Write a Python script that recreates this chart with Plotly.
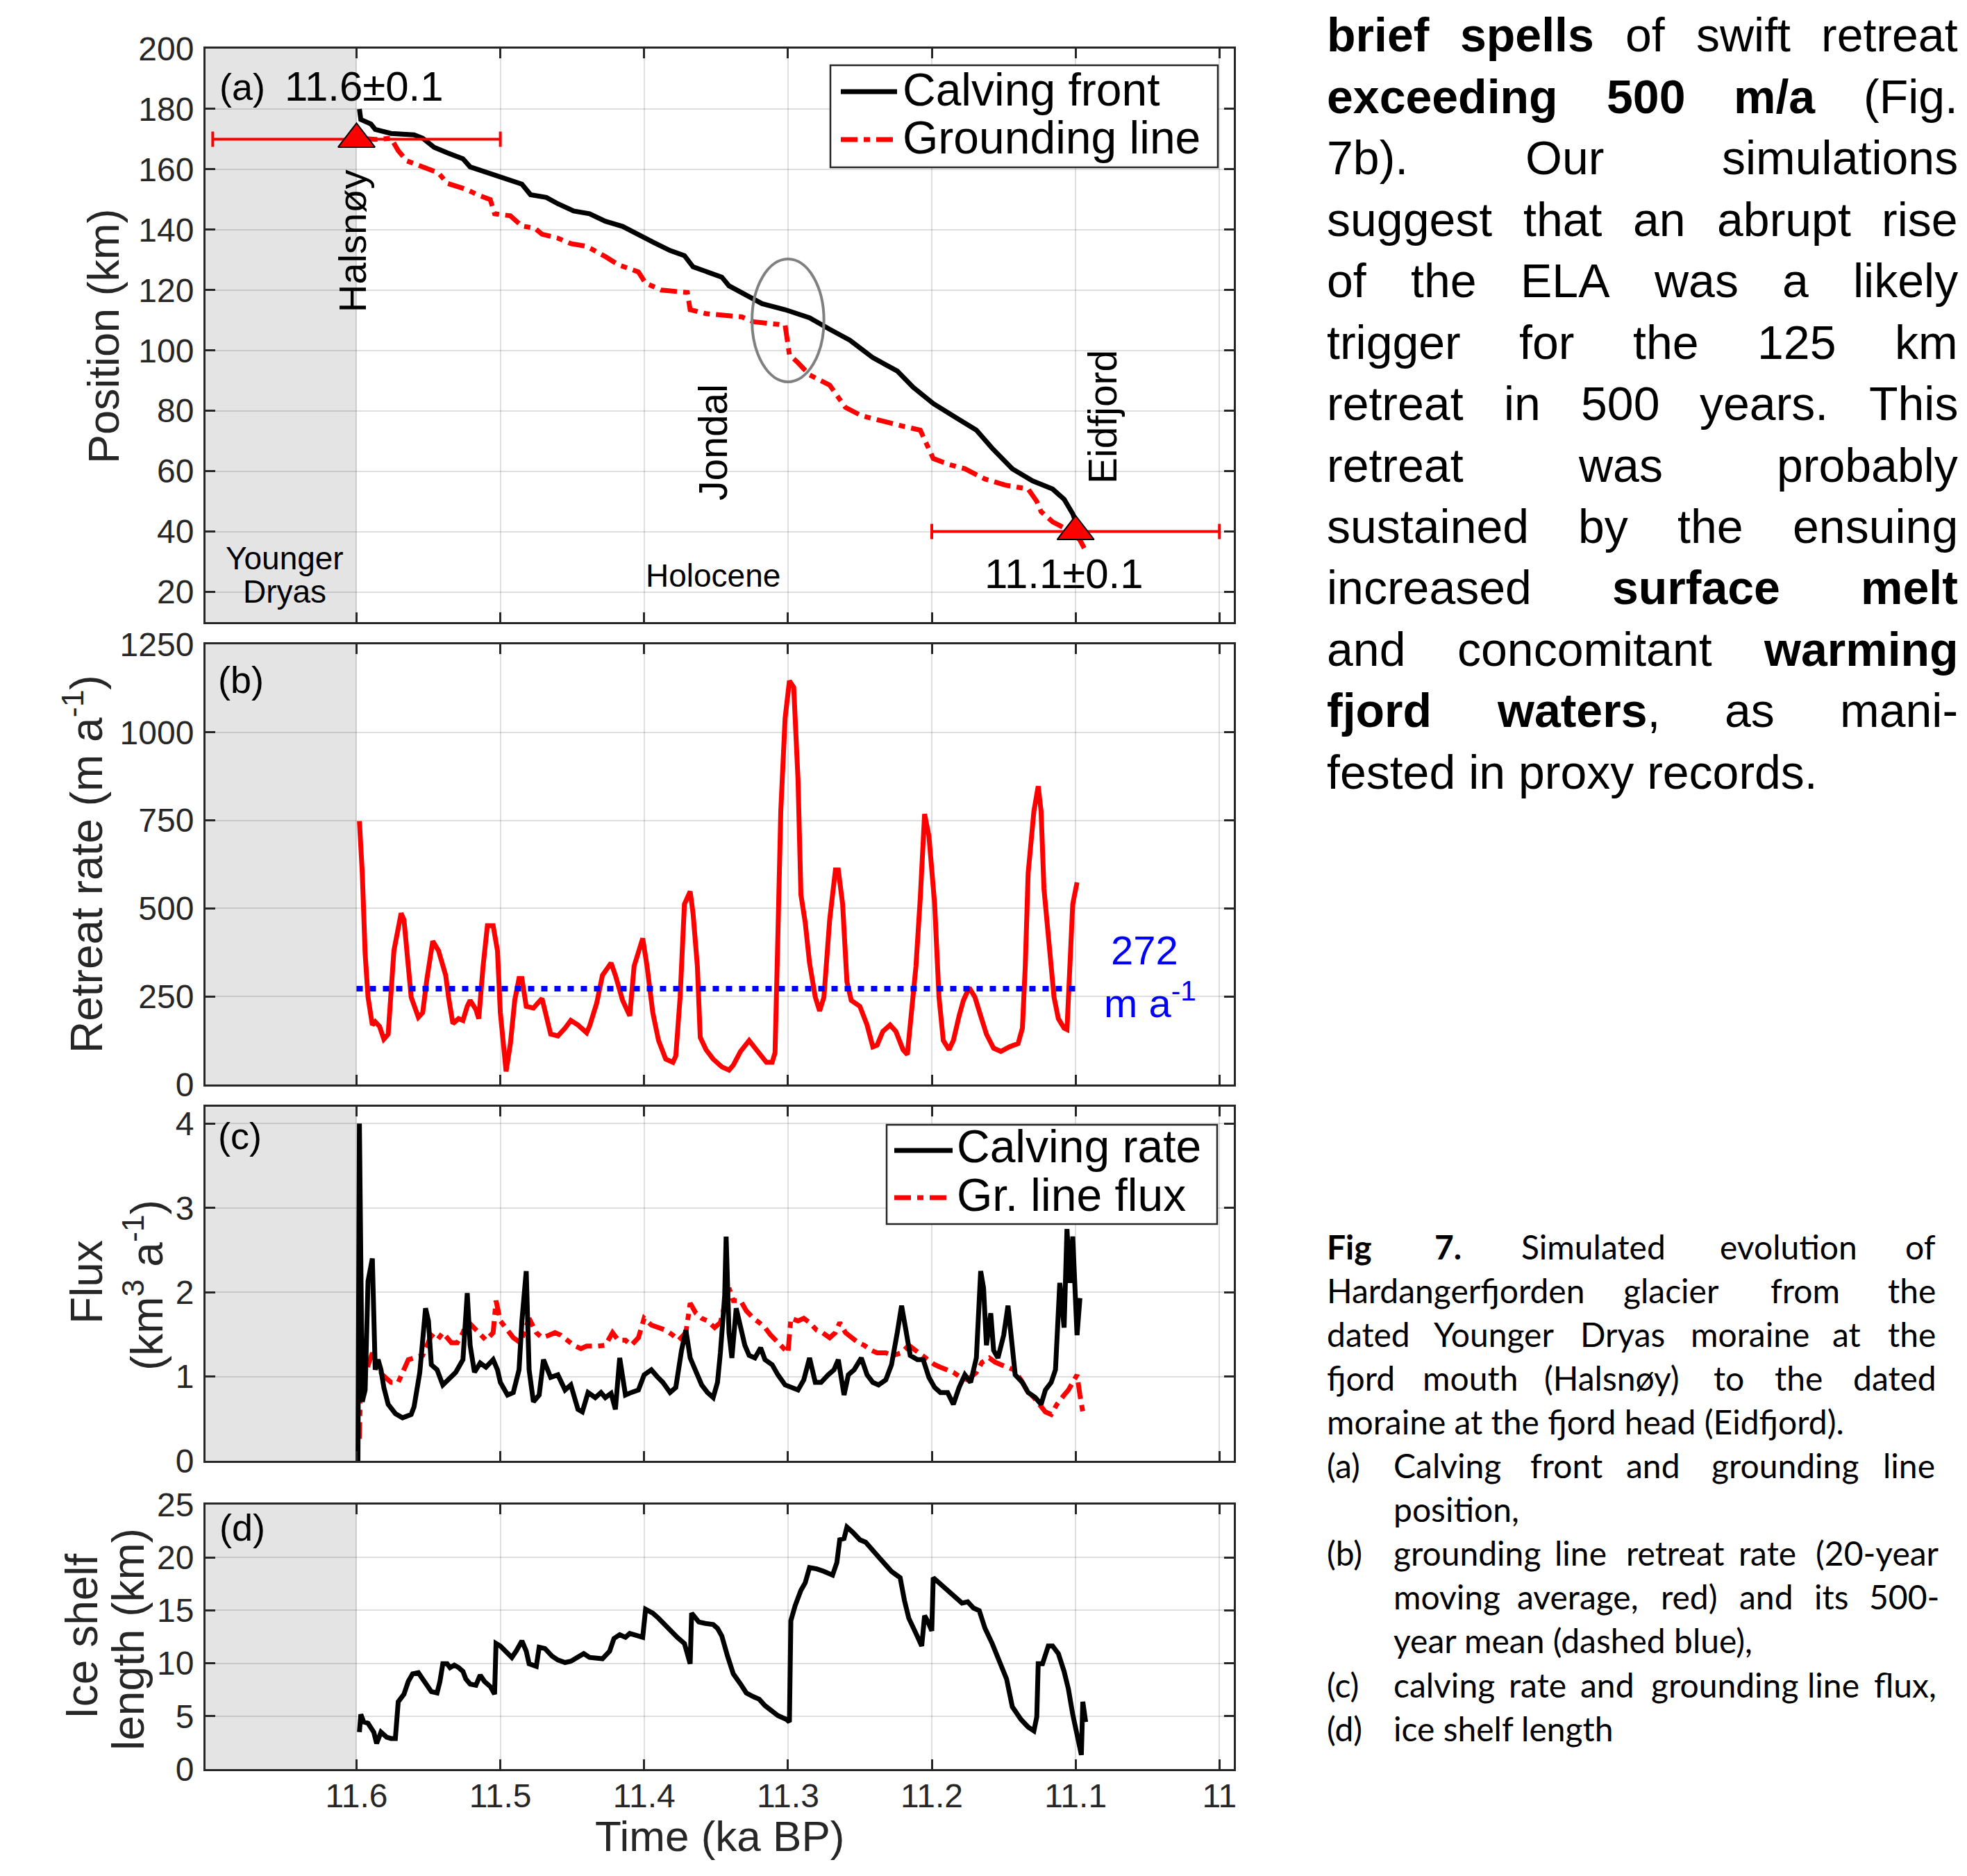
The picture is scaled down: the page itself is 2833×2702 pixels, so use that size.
import re
import plotly.graph_objects as go

W, H = 2833, 2702
INK = "#262626"
SANS = "Liberation Sans, Arial, sans-serif"
CAPF = "Lato, Open Sans, sans-serif"
OFF = 8  # page body margin seen in the rendered picture

# ---------------- data ----------------
x_tickvals = [11.6, 11.5, 11.4, 11.3, 11.2, 11.1, 11.0]
x_ticktext = ["11.6", "11.5", "11.4", "11.3", "11.2", "11.1", "11"]

# (a) calving front / grounding line position (km)
front_t = [11.598, 11.597, 11.590, 11.587, 11.576, 11.560, 11.554, 11.546, 11.537, 11.526,
           11.521, 11.504, 11.496, 11.485, 11.479, 11.468, 11.460, 11.449, 11.438, 11.427,
           11.415, 11.404, 11.393, 11.382, 11.372, 11.366, 11.354, 11.346, 11.341, 11.330,
           11.318, 11.302, 11.285, 11.271, 11.257, 11.241, 11.224, 11.213, 11.199, 11.183,
           11.169, 11.158, 11.144, 11.130, 11.116, 11.108, 11.102, 11.099]
front_km = [180.0, 176.5, 175.0, 173.2, 171.9, 171.4, 170.3, 167.3, 165.5, 163.5,
            160.8, 158.1, 156.8, 155.1, 151.6, 150.7, 148.6, 146.2, 145.3, 142.8,
            141.1, 138.6, 135.7, 133.1, 131.4, 127.7, 125.9, 124.3, 121.4, 118.6,
            115.5, 113.5, 110.8, 107.0, 103.4, 97.6, 93.2, 87.8, 82.4, 77.7,
            73.6, 67.6, 60.8, 56.8, 54.1, 50.7, 45.9, 41.9]

gl_t = [11.597, 11.587, 11.576, 11.571, 11.565, 11.554, 11.543, 11.537, 11.524, 11.515,
        11.507, 11.504, 11.493, 11.485, 11.476, 11.471, 11.460, 11.451, 11.440, 11.427,
        11.418, 11.404, 11.399, 11.388, 11.370, 11.368, 11.357, 11.332, 11.324, 11.302,
        11.299, 11.293, 11.285, 11.271, 11.266, 11.260, 11.249, 11.238, 11.221, 11.208,
        11.204, 11.199, 11.188, 11.177, 11.163, 11.149, 11.133, 11.127, 11.124, 11.116,
        11.105, 11.097, 11.094]
gl_km = [170.3, 169.9, 170.3, 166.2, 162.8, 160.8, 158.8, 155.4, 153.4, 151.4,
         150.0, 145.3, 144.6, 141.2, 140.5, 138.5, 137.2, 135.4, 134.5, 131.1,
         128.4, 126.0, 122.3, 120.0, 119.2, 113.5, 112.2, 111.1, 109.5, 108.4,
         98.6, 95.9, 91.9, 88.5, 85.1, 81.1, 78.4, 77.0, 75.0, 73.6,
         69.6, 64.2, 62.2, 60.8, 57.4, 55.4, 54.1, 50.0, 46.6, 43.2,
         40.5, 37.2, 34.5]

moraine_age = [11.6, 11.1]
moraine_km = [170, 40]
moraine_err = [0.1, 0.1]

# (b) grounding line retreat rate (m/a)
rate_t = [11.598, 11.596, 11.594, 11.592, 11.589, 11.587, 11.584, 11.581, 11.578, 11.576,
          11.574, 11.569, 11.567, 11.564, 11.562, 11.557, 11.554, 11.551, 11.547, 11.543,
          11.538, 11.536, 11.533, 11.529, 11.526, 11.523, 11.521, 11.517, 11.515, 11.512,
          11.509, 11.505, 11.502, 11.500, 11.497, 11.496, 11.493, 11.490, 11.487, 11.485,
          11.482, 11.477, 11.474, 11.471, 11.465, 11.460, 11.455, 11.451, 11.446, 11.440,
          11.438, 11.433, 11.429, 11.423, 11.420, 11.415, 11.410, 11.407, 11.401, 11.398,
          11.394, 11.390, 11.385, 11.380, 11.378, 11.375, 11.372, 11.368, 11.366, 11.363,
          11.361, 11.357, 11.352, 11.346, 11.341, 11.338, 11.333, 11.327, 11.322, 11.318,
          11.315, 11.311, 11.309, 11.307, 11.305, 11.302, 11.299, 11.296, 11.293, 11.291,
          11.288, 11.285, 11.281, 11.278, 11.275, 11.271, 11.267, 11.265, 11.262, 11.259,
          11.256, 11.250, 11.245, 11.241, 11.238, 11.234, 11.229, 11.225, 11.220, 11.217,
          11.215, 11.211, 11.208, 11.205, 11.202, 11.198, 11.195, 11.192, 11.188, 11.185,
          11.181, 11.178, 11.174, 11.170, 11.166, 11.162, 11.157, 11.152, 11.146, 11.140,
          11.137, 11.135, 11.133, 11.129, 11.126, 11.124, 11.122, 11.118, 11.115, 11.112,
          11.108, 11.106, 11.104, 11.102, 11.099]
retreat_rate = [748, 600, 371, 248, 169, 178, 165, 129, 143, 248,
                380, 486, 468, 336, 248, 191, 204, 301, 407, 380,
                310, 248, 173, 187, 182, 222, 239, 213, 187, 336,
                451, 451, 380, 204, 72, 37, 116, 239, 301, 301,
                222, 217, 231, 244, 143, 138, 160, 182, 169, 147,
                165, 231, 310, 345, 310, 239, 195, 336, 415, 336,
                204, 125, 72, 63, 81, 248, 512, 548, 486, 336,
                134, 99, 72, 50, 41, 55, 94, 125, 99, 81,
                63, 63, 90, 424, 776, 1040, 1146, 1128, 864, 539,
                460, 345, 248, 209, 248, 468, 609, 609, 512, 292,
                239, 222, 169, 107, 112, 151, 169, 151, 99, 85,
                160, 336, 530, 768, 706, 512, 248, 125, 99, 125,
                195, 239, 275, 248, 195, 143, 103, 94, 107, 116,
                160, 336, 600, 776, 847, 776, 556, 380, 248, 187,
                160, 156, 336, 512, 574]
mean_rate = 272
mean_span = [11.6, 11.1]

# (c) calving rate and grounding line flux (km3/a)
calv_t = [11.599, 11.598, 11.596, 11.594, 11.592, 11.589, 11.587, 11.585, 11.583, 11.581,
          11.578, 11.573, 11.568, 11.562, 11.560, 11.556, 11.552, 11.550, 11.548, 11.544,
          11.540, 11.535, 11.531, 11.526, 11.523, 11.521, 11.518, 11.514, 11.510, 11.505,
          11.502, 11.500, 11.495, 11.491, 11.487, 11.485, 11.482, 11.480, 11.477, 11.473,
          11.470, 11.465, 11.460, 11.455, 11.451, 11.446, 11.443, 11.439, 11.434, 11.430,
          11.427, 11.423, 11.420, 11.417, 11.413, 11.409, 11.404, 11.400, 11.395, 11.391,
          11.387, 11.382, 11.378, 11.374, 11.371, 11.368, 11.364, 11.360, 11.356, 11.352,
          11.349, 11.347, 11.344, 11.343, 11.341, 11.339, 11.336, 11.333, 11.330, 11.327,
          11.323, 11.319, 11.316, 11.311, 11.307, 11.302, 11.298, 11.293, 11.289, 11.285,
          11.281, 11.277, 11.272, 11.268, 11.265, 11.261, 11.258, 11.254, 11.249, 11.245,
          11.241, 11.237, 11.232, 11.228, 11.224, 11.221, 11.218, 11.215, 11.210, 11.206,
          11.202, 11.198, 11.194, 11.189, 11.185, 11.181, 11.177, 11.173, 11.169, 11.166,
          11.164, 11.162, 11.159, 11.157, 11.154, 11.150, 11.147, 11.145, 11.142, 11.137,
          11.133, 11.128, 11.124, 11.121, 11.117, 11.114, 11.111, 11.108, 11.106, 11.104,
          11.102, 11.099, 11.097]
calving_rate = [0.0, 4.0, 0.7, 0.84, 2.13, 2.4, 1.08, 1.2, 1.08, 0.87,
                0.67, 0.56, 0.51, 0.55, 0.64, 1.05, 1.81, 1.66, 1.14, 1.08,
                0.9, 0.99, 1.05, 1.2, 1.99, 1.37, 1.05, 1.16, 1.11, 1.2,
                1.08, 0.93, 0.78, 0.81, 1.08, 1.66, 2.25, 1.08, 0.7, 0.78,
                1.2, 0.99, 1.02, 0.84, 0.9, 0.61, 0.58, 0.81, 0.75, 0.81,
                0.75, 0.8, 0.61, 1.22, 0.78, 0.81, 0.84, 1.02, 1.08, 1.0,
                0.93, 0.81, 0.87, 1.31, 1.55, 1.22, 1.05, 0.9, 0.81, 0.75,
                0.93, 1.28, 1.96, 2.66, 1.52, 1.22, 1.81, 1.61, 1.37, 1.25,
                1.22, 1.34, 1.2, 1.14, 1.02, 0.9, 0.87, 0.84, 0.96, 1.22,
                0.93, 0.93, 1.02, 1.08, 1.2, 0.78, 1.02, 1.08, 1.22, 1.02,
                0.93, 0.9, 0.96, 1.14, 1.52, 1.84, 1.55, 1.25, 1.2, 1.2,
                0.99, 0.87, 0.81, 0.81, 0.67, 0.87, 1.02, 0.93, 1.22, 2.25,
                2.05, 1.37, 1.75, 1.31, 1.22, 1.49, 1.84, 1.52, 1.02, 0.93,
                0.81, 0.75, 0.67, 0.84, 0.93, 1.08, 2.11, 1.58, 2.75, 2.11,
                2.66, 1.49, 1.93]

flux_t = [11.598, 11.597, 11.595, 11.593, 11.589, 11.586, 11.582, 11.576, 11.571, 11.567,
          11.564, 11.560, 11.554, 11.548, 11.544, 11.540, 11.534, 11.530, 11.526, 11.523,
          11.519, 11.515, 11.510, 11.505, 11.503, 11.500, 11.495, 11.491, 11.486, 11.483,
          11.480, 11.475, 11.471, 11.466, 11.462, 11.458, 11.453, 11.449, 11.444, 11.440,
          11.433, 11.427, 11.422, 11.418, 11.413, 11.409, 11.404, 11.400, 11.395, 11.391,
          11.385, 11.380, 11.376, 11.371, 11.368, 11.364, 11.360, 11.356, 11.351, 11.347,
          11.343, 11.341, 11.338, 11.333, 11.329, 11.324, 11.320, 11.316, 11.312, 11.309,
          11.305, 11.300, 11.298, 11.293, 11.289, 11.285, 11.280, 11.276, 11.271, 11.267,
          11.264, 11.260, 11.256, 11.251, 11.247, 11.242, 11.238, 11.232, 11.227, 11.221,
          11.216, 11.211, 11.207, 11.203, 11.198, 11.194, 11.189, 11.185, 11.180, 11.175,
          11.169, 11.165, 11.160, 11.156, 11.152, 11.147, 11.143, 11.138, 11.134, 11.129,
          11.125, 11.121, 11.117, 11.113, 11.108, 11.105, 11.102, 11.099, 11.097, 11.095]
gl_flux = [0.26, 1.08, 1.28, 1.08, 1.28, 1.14, 1.02, 0.93, 0.93, 1.08,
           1.2, 1.22, 1.25, 1.49, 1.43, 1.52, 1.4, 1.4, 1.52, 1.66,
           1.58, 1.52, 1.43, 1.52, 1.9, 1.66, 1.55, 1.46, 1.4, 1.55,
           1.69, 1.52, 1.46, 1.49, 1.52, 1.49, 1.43, 1.37, 1.33, 1.36,
           1.36, 1.37, 1.52, 1.43, 1.43, 1.37, 1.46, 1.69, 1.61, 1.58,
           1.55, 1.49, 1.43, 1.52, 1.87, 1.75, 1.69, 1.66, 1.58, 1.64,
           1.9, 2.05, 1.9, 1.9, 1.78, 1.69, 1.64, 1.58, 1.49, 1.43,
           1.37, 1.28, 1.69, 1.66, 1.69, 1.64, 1.55, 1.52, 1.46, 1.52,
           1.64, 1.52, 1.46, 1.4, 1.37, 1.31, 1.28, 1.28, 1.25, 1.28,
           1.37, 1.31, 1.25, 1.2, 1.14, 1.11, 1.08, 1.05, 0.99, 0.96,
           1.05, 1.17, 1.22, 1.17, 1.14, 1.11, 1.08, 0.96, 0.84, 0.75,
           0.67, 0.58, 0.55, 0.67, 0.78, 0.84, 0.93, 1.02, 0.78, 0.58]

# (d) ice shelf length (km)
shelf_t = [11.598, 11.597, 11.595, 11.592, 11.588, 11.586, 11.583, 11.579, 11.576, 11.573,
           11.571, 11.567, 11.564, 11.561, 11.557, 11.554, 11.551, 11.548, 11.544, 11.542,
           11.540, 11.537, 11.535, 11.532, 11.529, 11.526, 11.524, 11.521, 11.517, 11.514,
           11.511, 11.507, 11.504, 11.503, 11.500, 11.495, 11.492, 11.489, 11.485, 11.482,
           11.480, 11.475, 11.473, 11.469, 11.464, 11.460, 11.455, 11.451, 11.446, 11.442,
           11.438, 11.433, 11.429, 11.424, 11.421, 11.417, 11.413, 11.410, 11.405, 11.401,
           11.399, 11.394, 11.390, 11.385, 11.381, 11.377, 11.372, 11.368, 11.367, 11.362,
           11.358, 11.352, 11.349, 11.346, 11.342, 11.338, 11.333, 11.329, 11.324, 11.320,
           11.316, 11.311, 11.307, 11.301, 11.299, 11.298, 11.295, 11.291, 11.288, 11.285,
           11.280, 11.275, 11.269, 11.266, 11.264, 11.261, 11.259, 11.255, 11.250, 11.246,
           11.241, 11.237, 11.232, 11.228, 11.222, 11.219, 11.216, 11.211, 11.207, 11.205,
           11.203, 11.200, 11.199, 11.195, 11.189, 11.185, 11.179, 11.175, 11.171, 11.167,
           11.163, 11.158, 11.153, 11.148, 11.144, 11.138, 11.133, 11.129, 11.127, 11.126,
           11.123, 11.119, 11.116, 11.112, 11.108, 11.105, 11.102, 11.098, 11.096, 11.095,
           11.093]
shelf_km = [3.49, 5.17, 4.45, 4.33, 3.49, 2.42, 3.49, 3.01, 2.89, 2.89,
            6.36, 7.08, 8.28, 9.0, 9.11, 8.52, 8.04, 7.32, 7.2, 8.28,
            9.95, 9.95, 9.59, 9.83, 9.59, 9.23, 8.52, 8.04, 7.92, 8.88,
            8.28, 7.8, 7.08, 11.87, 11.63, 10.91, 10.55, 11.15, 12.11, 11.15,
            9.95, 9.71, 11.51, 11.39, 10.67, 10.31, 10.07, 10.19, 10.55, 10.91,
            10.55, 10.43, 10.43, 11.15, 12.34, 12.7, 12.46, 12.82, 12.58, 12.46,
            15.1, 14.74, 14.26, 13.54, 13.06, 12.46, 11.87, 9.95, 14.74, 13.9,
            13.78, 13.66, 13.3, 12.58, 10.67, 9.0, 8.04, 7.2, 6.84, 6.6,
            6.0, 5.53, 5.05, 4.69, 4.45, 14.02, 15.45, 16.89, 17.61, 19.04,
            18.92, 18.68, 18.33, 19.52, 21.67, 21.79, 22.87, 22.39, 21.67, 21.44,
            20.72, 20.0, 19.28, 18.68, 18.09, 15.93, 14.26, 12.82, 11.63, 14.5,
            14.02, 13.06, 18.09, 17.61, 16.89, 16.41, 15.69, 15.81, 15.22, 14.98,
            13.3, 11.87, 10.19, 8.52, 5.89, 4.69, 3.97, 3.61, 4.93, 9.95,
            9.95, 11.63, 11.63, 10.91, 9.23, 7.56, 5.17, 2.54, 1.34, 6.36,
            4.45]

# ---------------- layout helpers ----------------
def PX(v):
    return (v - OFF) / W


def PY(v):
    return 1 - (v - OFF) / H


XR = [11.705, 10.99]
XL, XRp = 296, 1777
common = dict(showline=True, linecolor=INK, linewidth=3, mirror="ticks",
              ticks="inside", ticklen=14, tickwidth=3, tickcolor=INK,
              showgrid=True, gridcolor="rgba(38,38,38,0.15)", gridwidth=2,
              zeroline=False, automargin=False,
              tickfont=dict(family=SANS, size=48, color=INK))

panels = [
    ("", 70, 896, [10, 200], list(range(20, 201, 20))),
    ("2", 928, 1562, [0, 1250], [0, 250, 500, 750, 1000, 1250]),
    ("3", 1594, 2104, [0, 4.2], [0, 1, 2, 3, 4]),
    ("4", 2167, 2548, [0, 25], [0, 5, 10, 15, 20, 25]),
]

layout = dict(width=W, height=H,
              margin=dict(l=0, r=0, t=0, b=0, pad=0, autoexpand=False),
              paper_bgcolor="white", plot_bgcolor="white", showlegend=False)
shapes = []
for s, top, bot, yr, yt in panels:
    layout["xaxis" + s] = dict(domain=[PX(XL), PX(XRp)], range=XR, autorange=False,
                               anchor="y" + s, tickvals=x_tickvals, ticktext=x_ticktext,
                               showticklabels=(s == "4"), ticklabelstandoff=-6, **common)
    layout["yaxis" + s] = dict(domain=[PY(bot), PY(top)], range=yr, autorange=False,
                               anchor="x" + s, tickvals=yt, ticklabelstandoff=4, **common)
    shapes.append(dict(type="rect", xref="x" + s, yref="y" + s + " domain",
                       x0=XR[0], x1=11.6, y0=0, y1=1, fillcolor="#e4e4e4",
                       line=dict(width=0), layer="below"))

# ellipse around 11.3 ka
shapes.append(dict(type="circle", xref="x", yref="y", x0=11.325, x1=11.275,
                   y0=89.6, y1=130.3, line=dict(color="#808080", width=4)))

GLDASH = "24px,9px,9px,9px"
LW = 7


def legend_box(x0, y0, x1, y1, items):
    shapes.append(dict(type="rect", xref="paper", yref="paper", x0=PX(x0), x1=PX(x1),
                       y0=PY(y1), y1=PY(y0), fillcolor="white",
                       line=dict(color=INK, width=2.5), layer="above"))
    for (lx0, lx1, ly, color, dash) in items:
        shapes.append(dict(type="line", xref="paper", yref="paper", x0=PX(lx0), x1=PX(lx1),
                           y0=PY(ly), y1=PY(ly), line=dict(color=color, width=LW, dash=dash),
                           layer="above"))


legend_box(1196, 94, 1754, 241, [(1211, 1292, 132, "black", "solid"),
                                 (1211, 1292, 201, "red", GLDASH)])
legend_box(1277, 1620, 1753, 1763, [(1288, 1372, 1657, "black", "solid"),
                                    (1288, 1372, 1725, "red", GLDASH)])

annotations = []


def ann(text, x, y, size, color="black", family=SANS, xanchor="center",
        yanchor="middle", angle=0):
    annotations.append(dict(text=text, x=PX(x), y=PY(y), xref="paper", yref="paper",
                            showarrow=False, xanchor=xanchor, yanchor=yanchor,
                            textangle=angle,
                            font=dict(family=family, size=size, color=color)))


# legend texts
ann("Calving front", 1298, 129, 66, xanchor="left")
ann("Grounding line", 1298, 198, 66, xanchor="left")
ann("Calving rate", 1376, 1651, 66, xanchor="left")
ann("Gr. line flux", 1376, 1721, 66, xanchor="left")

# panel letters and labels
ann("(a)", 314, 125, 54, xanchor="left")
ann("11.6±0.1", 408, 125, 60, xanchor="left")
ann("(b)", 312, 979, 54, xanchor="left")
ann("(c)", 312, 1636, 54, xanchor="left")
ann("(d)", 314, 2200, 54, xanchor="left")
ann("Younger", 410, 804, 46)
ann("Dryas", 410, 852, 46)
ann("Holocene", 1027, 829, 46)
ann("11.1±0.1", 1532, 826, 60)
ann("Halsnøy", 508, 348, 56, angle=-90)
ann("Jondal", 1027, 637, 57, angle=-90)
ann("Eidfjord", 1588, 601, 57, angle=-90)
ann("272", 1649, 1368, 58, color="blue")
ann("m a<sup>-1</sup>", 1656, 1440, 58, color="blue")

# axis titles
ann("Position (km)", 149, 484, 63, color=INK, angle=-90)
ann("Retreat rate (m a<sup>-1</sup>)", 120, 1245, 64, color=INK, angle=-90)
ann("Flux", 125, 1847, 64, color=INK, angle=-90)
ann("(km<sup>3</sup> a<sup>-1</sup>)", 207, 1851, 64, color=INK, angle=-90)
ann("Ice shelf", 118, 2356, 64, color=INK, angle=-90)
ann("length (km)", 185, 2361, 64, color=INK, angle=-90)
ann("Time (ka BP)", 1036, 2644, 62, color=INK)

# ---------------- right-hand text (justified) ----------------
AR = dict(zip("abcdefghijklmnopqrstuvwxyz",
              [556, 556, 500, 556, 556, 278, 556, 556, 222, 222, 500, 222, 833, 556, 556,
               556, 556, 333, 500, 278, 556, 500, 722, 500, 500, 500]))
AR.update(dict(zip("ABCDEFGHIJKLMNOPQRSTUVWXYZ",
                   [667, 667, 722, 722, 667, 611, 778, 722, 278, 500, 667, 556, 833, 722,
                    778, 667, 778, 722, 667, 611, 722, 667, 944, 667, 667, 611])))
AR.update({c: 556 for c in "0123456789"})
AR.update({" ": 278, ".": 278, ",": 278, "(": 333, ")": 333, "/": 278, "-": 333, "ø": 611})
ARB = dict(zip("abcdefghijklmnopqrstuvwxyz",
               [556, 611, 556, 611, 556, 333, 611, 611, 278, 278, 556, 278, 889, 611, 611,
                611, 611, 389, 556, 333, 611, 556, 778, 556, 556, 500]))
ARB.update({c: 556 for c in "0123456789"})
ARB.update({" ": 278, ".": 278, ",": 278, "/": 278, "F": 611})


def parse_word(w):
    out = []
    for p in re.split(r"(\*\*[^*]+\*\*)", w):
        if not p:
            continue
        if p.startswith("**"):
            out.append((p[2:-2], True))
        else:
            out.append((p, False))
    return out


def word_w(segs, size, k=1.0):
    tot = 0
    for t, b in segs:
        tab = ARB if b else AR
        tot += sum(tab.get(c, 556) for c in t)
    return tot / 1000 * size * k


def word_html(segs):
    return "".join("<b>%s</b>" % t if b else t for t, b in segs)


def justify(line, left, right, y, size, family, k, justified=True):
    words = [parse_word(w) for w in line.split(" ")]
    if not justified or len(words) == 1:
        ann(" ".join(word_html(s) for s in words), left, y, size, family=family,
            xanchor="left")
        return
    widths = [word_w(s, size, k) for s in words]
    gap = (right - left - sum(widths)) / (len(words) - 1)
    gap = max(gap, 0.2 * size)
    x = left
    for s, wd in zip(words, widths):
        ann(word_html(s), x, y, size, family=family, xanchor="left")
        x += wd + gap


body = [
    "**brief** **spells** of swift retreat",
    "**exceeding** **500** **m/a** (Fig.",
    "7b). Our simulations",
    "suggest that an abrupt rise",
    "of the ELA was a likely",
    "trigger for the 125 km",
    "retreat in 500 years. This",
    "retreat was probably",
    "sustained by the ensuing",
    "increased **surface** **melt**",
    "and concomitant **warming**",
    "**fjord** **waters**, as mani-",
    "fested in proxy records.",
]
BFS = 68
for i, line in enumerate(body):
    justify(line, 1909, 2818, 50 + i * 88.5, BFS, SANS, 1.0,
            justified=(i < len(body) - 1))

# caption
CFS = 48
caption = [
    ("**Fig** **7.** Simulated evolution of", 1909, True),
    ("Hardangerfjorden glacier from the", 1909, True),
    ("dated Younger Dryas moraine at the", 1909, True),
    ("fjord mouth (Halsnøy) to the dated", 1909, True),
    ("moraine at the fjord head (Eidfjord).", 1909, False),
    ("Calving front and grounding line", 2005, True),
    ("position,", 2005, False),
    ("grounding line retreat rate (20-year", 2005, True),
    ("moving average, red) and its 500-", 2005, True),
    ("year mean (dashed blue),", 2005, False),
    ("calving rate and grounding line flux,", 2005, True),
    ("ice shelf length", 2005, False),
]
cap_labels = {5: "(a)", 7: "(b)", 10: "(c)", 11: "(d)"}
for i, (line, left, just) in enumerate(caption):
    y = 1795 + i * 63.1
    justify(line, left, 2779, y, CFS, CAPF, 0.93, justified=just)
    if i in cap_labels:
        ann(cap_labels[i], 1909, y, CFS, family=CAPF, xanchor="left")

# ---------------- traces ----------------
fig = go.Figure()
fig.add_trace(go.Scatter(x=gl_t, y=gl_km, mode="lines", xaxis="x", yaxis="y",
                         line=dict(color="red", width=LW, dash=GLDASH)))
fig.add_trace(go.Scatter(x=front_t, y=front_km, mode="lines", xaxis="x", yaxis="y",
                         line=dict(color="black", width=LW)))
fig.add_trace(go.Scatter(x=moraine_age, y=moraine_km, mode="markers", xaxis="x", yaxis="y",
                         marker=dict(symbol="triangle-up", size=46, color="red",
                                     line=dict(color="black", width=2)),
                         error_x=dict(type="data", array=moraine_err, color="red",
                                      thickness=4, width=11)))

fig.add_trace(go.Scatter(x=rate_t, y=retreat_rate, mode="lines", xaxis="x2", yaxis="y2",
                         line=dict(color="red", width=LW)))
fig.add_trace(go.Scatter(x=mean_span, y=[mean_rate, mean_rate], mode="lines",
                         xaxis="x2", yaxis="y2",
                         line=dict(color="blue", width=8, dash="9px,10px")))

fig.add_trace(go.Scatter(x=flux_t, y=gl_flux, mode="lines", xaxis="x3", yaxis="y3",
                         line=dict(color="red", width=LW, dash=GLDASH)))
fig.add_trace(go.Scatter(x=calv_t, y=calving_rate, mode="lines", xaxis="x3", yaxis="y3",
                         line=dict(color="black", width=LW)))

fig.add_trace(go.Scatter(x=shelf_t, y=shelf_km, mode="lines", xaxis="x4", yaxis="y4",
                         line=dict(color="black", width=LW)))

layout["shapes"] = shapes
layout["annotations"] = annotations
fig.update_layout(**layout)
fig.write_html("out.html")
